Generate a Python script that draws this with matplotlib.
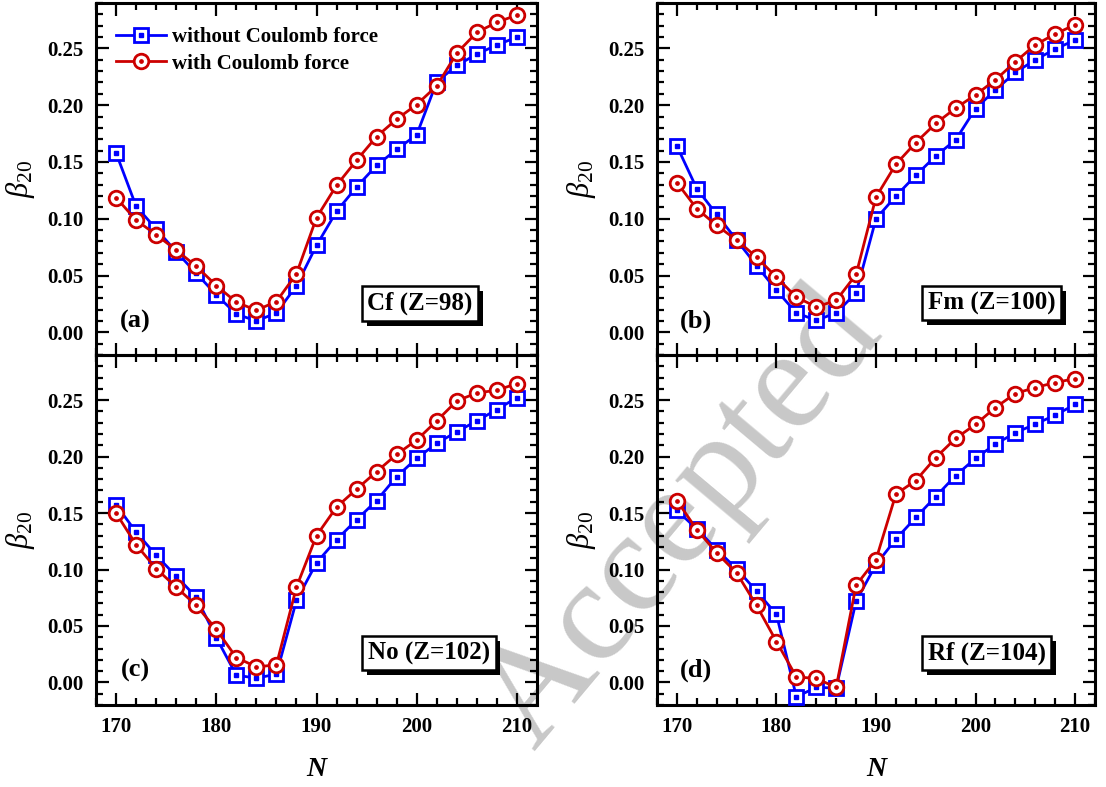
import numpy as np
import matplotlib
matplotlib.use("Agg")
import matplotlib.pyplot as plt
from matplotlib.ticker import MultipleLocator, FormatStrFormatter
from matplotlib.legend_handler import HandlerTuple
import matplotlib.patheffects as pe

N = list(range(170, 211, 2))

cf_without = [0.158, 0.111, 0.091, 0.071, 0.052, 0.033, 0.016, 0.010, 0.017, 0.041, 0.0765,
              0.1065, 0.128, 0.147, 0.161, 0.174, 0.2206, 0.235, 0.245, 0.253, 0.260]
cf_with = [0.1186, 0.0988, 0.0859, 0.0724, 0.0582, 0.0412, 0.0265, 0.0194, 0.0271, 0.0515, 0.1009,
           0.1294, 0.1515, 0.1724, 0.1877, 0.2006, 0.217, 0.2459, 0.2642, 0.273, 0.2794]

fm_without = [0.164, 0.1265, 0.1038, 0.0812, 0.0588, 0.037, 0.017, 0.0106, 0.017, 0.0347, 0.100,
              0.120, 0.1382, 0.1553, 0.1694, 0.197, 0.2135, 0.2288, 0.240, 0.2494, 0.2574]
fm_with = [0.1318, 0.1088, 0.0941, 0.0812, 0.0662, 0.0485, 0.0309, 0.0224, 0.028, 0.0509, 0.1191,
           0.148, 0.1671, 0.1839, 0.1974, 0.2091, 0.2223, 0.2382, 0.2532, 0.2627, 0.2709]

no_without = [0.1573, 0.1332, 0.1126, 0.0941, 0.0755, 0.0397, 0.0064, 0.0038, 0.0073, 0.0726, 0.1059,
              0.1264, 0.1441, 0.1611, 0.1823, 0.1985, 0.2118, 0.222, 0.2317, 0.2417, 0.2523]
no_with = [0.150, 0.122, 0.1008, 0.0844, 0.0682, 0.047, 0.022, 0.0138, 0.0155, 0.0844, 0.130,
           0.1553, 0.1712, 0.1867, 0.202, 0.2147, 0.2317, 0.2494, 0.2564, 0.2588, 0.2647]

rf_without = [0.1523, 0.1359, 0.1176, 0.1006, 0.0808, 0.0603, -0.0127, -0.0044, -0.005, 0.072, 0.1044,
              0.127, 0.1461, 0.1646, 0.1832, 0.1985, 0.2111, 0.2211, 0.2288, 0.2367, 0.2462]
rf_with = [0.1611, 0.1353, 0.1147, 0.097, 0.0682, 0.0362, 0.0049, 0.0035, -0.0044, 0.0861, 0.1088,
           0.1668, 0.1788, 0.1991, 0.2162, 0.2285, 0.2435, 0.2559, 0.2612, 0.2656, 0.2691]

panel_letters = ["(a)", "(b)", "(c)", "(d)"]
nucleus_labels = ["Cf (Z=98)", "Fm (Z=100)", "No (Z=102)", "Rf (Z=104)"]
series_labels = ["without Coulomb force", "with Coulomb force"]

data = [(cf_without, cf_with), (fm_without, fm_with), (no_without, no_with), (rf_without, rf_with)]

BLUE = "#0000FF"
RED = "#CC0000"
SERIF = "Liberation Serif"

plt.rcParams["font.family"] = SERIF
plt.rcParams["font.weight"] = "normal"
plt.rcParams["mathtext.fontset"] = "custom"
plt.rcParams["mathtext.it"] = "Liberation Serif:italic"
plt.rcParams["mathtext.rm"] = "Liberation Serif"

fig = plt.figure(figsize=(11.06, 7.87), dpi=100)

W = 1106.0
H = 787.0
cols = [(96, 537), (657, 1095)]
rows = [(3, 355), (355, 705)]
box_pos = [(0.735, 0.146), (0.764, 0.147), (0.755, 0.148), (0.753, 0.148)]
ylab_x = [-0.134, -0.135]

axes = []
for i in range(4):
    r, c = divmod(i, 2)
    x0, x1 = cols[c]
    y0, y1 = rows[r]
    ax = fig.add_axes([x0 / W, 1 - y1 / H, (x1 - x0) / W, (y1 - y0) / H])
    ax.set_facecolor("none")
    axes.append(ax)
    wo, wi = data[i]
    l1, = ax.plot(N, wo, "-", color=BLUE, lw=2, marker="s", ms=9.5, mfc="white", mec=BLUE, mew=2, zorder=3)
    d1, = ax.plot(N, wo, ls="none", marker="s", ms=2.2, color=BLUE, zorder=3.1)
    l2, = ax.plot(N, wi, "-", color=RED, lw=2, marker="o", ms=10.5, mfc="white", mec=RED, mew=2, zorder=4)
    d2, = ax.plot(N, wi, ls="none", marker="o", ms=2.4, color=RED, zorder=4.1)

    ax.set_xlim(168, 212)
    ax.set_ylim(-0.02, 0.29)
    ax.xaxis.set_major_locator(MultipleLocator(10))
    ax.xaxis.set_minor_locator(MultipleLocator(2))
    ax.yaxis.set_major_locator(MultipleLocator(0.05))
    ax.yaxis.set_minor_locator(MultipleLocator(0.01))
    ax.yaxis.set_major_formatter(FormatStrFormatter("%.2f"))
    ax.tick_params(which="both", direction="in", top=True, right=True, width=1.6)
    ax.tick_params(which="major", length=9, labelsize=15, pad=9)
    ax.tick_params(which="minor", length=5)
    for lab in ax.get_xticklabels() + ax.get_yticklabels():
        lab.set_fontweight("bold")
    for s in ax.spines.values():
        s.set_linewidth(2.2)
    if r == 0:
        ax.tick_params(labelbottom=False)
    else:
        ax.set_xlabel("N", fontsize=20, style="italic", fontweight="bold", labelpad=14)
    ax.set_ylabel(r"$\beta_{20}$", fontsize=22)
    ax.yaxis.set_label_coords(ylab_x[c], 0.5)

    ax.text(0.09, 0.095 if r == 0 else 0.10, panel_letters[i], transform=ax.transAxes,
            fontsize=19, fontweight="bold", ha="center", va="center")
    t = ax.text(box_pos[i][0], box_pos[i][1], nucleus_labels[i], transform=ax.transAxes,
                fontsize=18, fontweight="bold", ha="center", va="center", zorder=6,
                bbox=dict(boxstyle="square,pad=0.22", fc="white", ec="black", lw=1.8))
    t.get_bbox_patch().set_path_effects([
        pe.SimplePatchShadow(offset=(3.5, -3.5), shadow_rgbFace="black", alpha=1.0),
        pe.Normal()])

    if i == 0:
        ax.legend([(l1, d1), (l2, d2)], series_labels,
                  handler_map={tuple: HandlerTuple(ndivide=1)},
                  loc="upper left", bbox_to_anchor=(0.045, 0.931), frameon=False,
                  handlelength=2.4, handletextpad=0.3, labelspacing=0.3,
                  borderpad=0, borderaxespad=0, prop=dict(family=SERIF, weight="bold", size=15))

fig.text(683 / W, 1 - 520 / H, "Accepted", rotation=50, fontsize=104, color="#c8c8c8",
         family=SERIF, fontweight="normal", ha="center", va="center", zorder=-10,
         rotation_mode="anchor")

fig.savefig("out.png", dpi=100)
